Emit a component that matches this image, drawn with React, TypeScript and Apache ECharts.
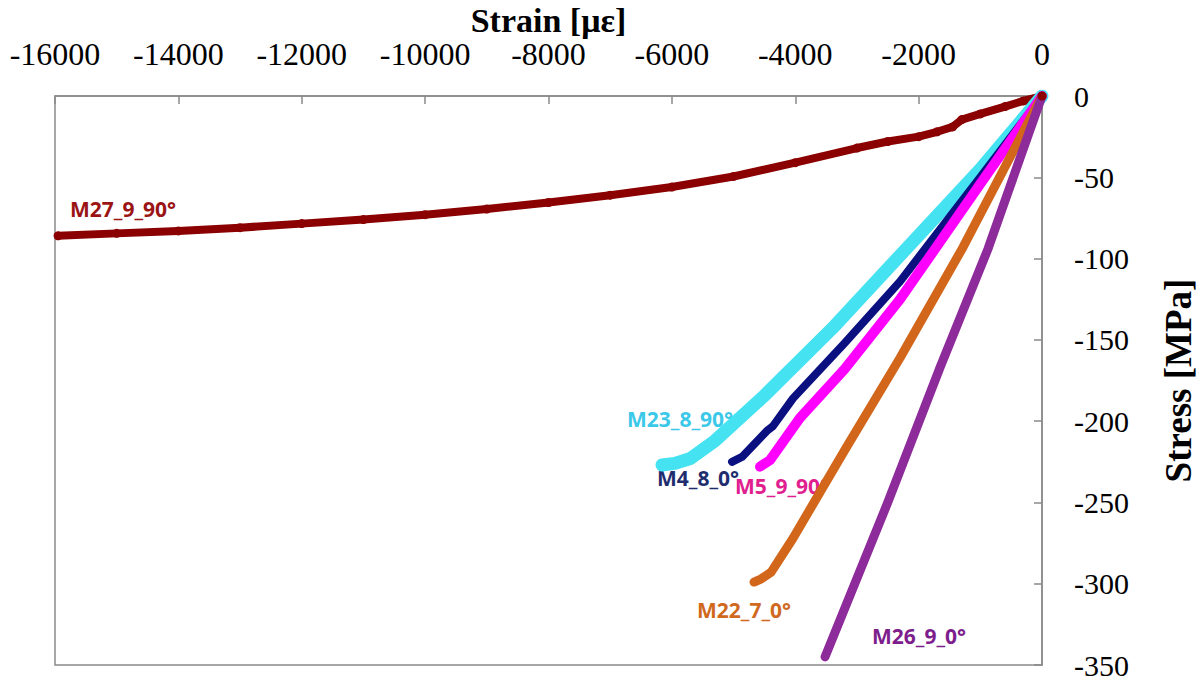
import React, { useEffect, useRef } from "react";
import * as echarts from "echarts";

// Strain [µε] / Stress [MPa] readings per specimen
const m27Strain = [0, -300, -600, -1000, -1300, -1450, -1700, -2000, -2500, -3000, -4000, -5000, -6000, -7000, -8000, -9000, -10000, -11000, -12000, -13000, -14000, -15000, -15950];
const m27Stress = [0, -3, -6.5, -11, -14.5, -19, -22, -25, -28, -32, -41, -49.5, -56, -61, -65.5, -69.5, -73, -76, -78.5, -81, -83, -84.5, -86];

const m23Strain = [0, -1000, -2300, -3400, -4520, -5300, -5700, -5950, -6160];
const m23Stress = [0, -45, -98, -143, -185, -212, -223, -226, -227];

const m4Strain = [0, -1000, -2300, -3200, -4036, -4360, -4460, -4863, -5025];
const m4Stress = [0, -50, -114, -152, -186, -203, -206, -222, -225];

const m5Strain = [0, -1000, -2300, -3200, -3923, -4409, -4571];
const m5Stress = [0, -54, -125, -168, -198, -224, -228];

const m22Strain = [0, -1280, -2300, -3200, -4036, -4393, -4550, -4668];
const m22Stress = [0, -93, -161, -218, -272, -293, -297, -299];

const m26Strain = [0, -875, -1653, -2500, -3517];
const m26Stress = [0, -94, -167, -250, -345];

const seriesNames = ["M27_9_90°", "M23_8_90°", "M4_8_0°", "M5_9_90°", "M22_7_0°", "M26_9_0°"];

const zip = (a: number[], b: number[]) => a.map((v, i) => [v, b[i]]);

export default function App() {
  const ref = useRef<HTMLDivElement>(null);
  useEffect(() => {
    if (!ref.current) return;
    const chart = echarts.init(ref.current, undefined, { renderer: "svg" });
    const serif = "'Liberation Serif', 'Times New Roman', serif";
    const sans = "'Open Sans', 'Noto Sans', sans-serif";
    const mk = (name: string, data: number[][], color: string, width: number, extra: any = {}) => ({
      name,
      type: "line",
      data,
      showSymbol: false,
      symbol: "none",
      lineStyle: { color, width, cap: "round", join: "round" },
      itemStyle: { color },
      z: 3,
      ...extra,
    });
    chart.setOption({
      animation: false,
      backgroundColor: "#ffffff",
      grid: {
        left: 55,
        right: 158,
        top: 96,
        bottom: 17,
        containLabel: false,
        outerBoundsMode: "none",
        show: true,
        borderColor: "#8a8a8a",
        borderWidth: 1.5,
      },
      xAxis: {
        type: "value",
        position: "top",
        min: -16000,
        max: 0,
        interval: 2000,
        name: "Strain [με]",
        nameLocation: "middle",
        nameGap: 59,
        nameMoveOverlap: false,
        nameTextStyle: { fontFamily: serif, fontSize: 34, fontWeight: "bold", color: "#000" },
        axisLine: { show: true, lineStyle: { color: "#8a8a8a", width: 1.5 } },
        axisTick: { show: true, inside: true, length: 8, lineStyle: { color: "#8a8a8a", width: 1.5 } },
        axisLabel: { fontFamily: serif, fontSize: 32, color: "#000", margin: 26, formatter: (v: number) => String(v) },
        splitLine: { show: false },
      },
      yAxis: {
        type: "value",
        position: "right",
        min: -350,
        max: 0,
        interval: 50,
        name: "Stress [MPa]",
        nameLocation: "middle",
        nameRotate: 90,
        nameGap: 118,
        nameMoveOverlap: false,
        nameTextStyle: { fontFamily: serif, fontSize: 37, fontWeight: "bold", color: "#000" },
        axisLine: { show: true, lineStyle: { color: "#8a8a8a", width: 1.5 } },
        axisTick: { show: true, inside: true, length: 8, lineStyle: { color: "#8a8a8a", width: 1.5 } },
        axisLabel: { fontFamily: serif, fontSize: 30, color: "#000", margin: 32, formatter: (v: number) => String(v) },
        splitLine: { show: false },
      },
      series: [
        mk(seriesNames[0], zip(m27Strain, m27Stress), "#8B0000", 8, {
          showSymbol: true,
          symbol: "circle",
          symbolSize: 9,
        }),
        mk(seriesNames[1], zip(m23Strain, m23Stress), "#45E2F2", 13),
        mk(seriesNames[2], zip(m4Strain, m4Stress), "#0B1080", 8),
        mk(seriesNames[3], zip(m5Strain, m5Stress), "#FF00FF", 10),
        mk(seriesNames[4], zip(m22Strain, m22Stress), "#D2661A", 9),
        mk(seriesNames[5], zip(m26Strain, m26Stress), "#8E2B9B", 9),
      ],
      graphic: [
        { type: "text", left: 70, top: 198, style: { text: seriesNames[0], fill: "#9B1414", font: `bold 21px ${sans}` } },
        { type: "text", left: 627, top: 408, style: { text: seriesNames[1], fill: "#3CC8E8", font: `bold 21px ${sans}` } },
        { type: "text", left: 657, top: 467, style: { text: seriesNames[2], fill: "#1F2D6E", font: `bold 21px ${sans}` } },
        { type: "text", left: 735, top: 475, style: { text: seriesNames[3], fill: "#E0208F", font: `bold 21px ${sans}` } },
        { type: "text", left: 697, top: 599, style: { text: seriesNames[4], fill: "#D0691E", font: `bold 21px ${sans}` } },
        { type: "text", left: 872, top: 625, style: { text: seriesNames[5], fill: "#7D1E8C", font: `bold 21px ${sans}` } },
      ],
    });
    return () => chart.dispose();
  }, []);
  return (
    <div
      ref={ref}
      style={{ position: "fixed", left: 0, top: 0, width: 1200, height: 682, background: "#fff" }}
    />
  );
}
